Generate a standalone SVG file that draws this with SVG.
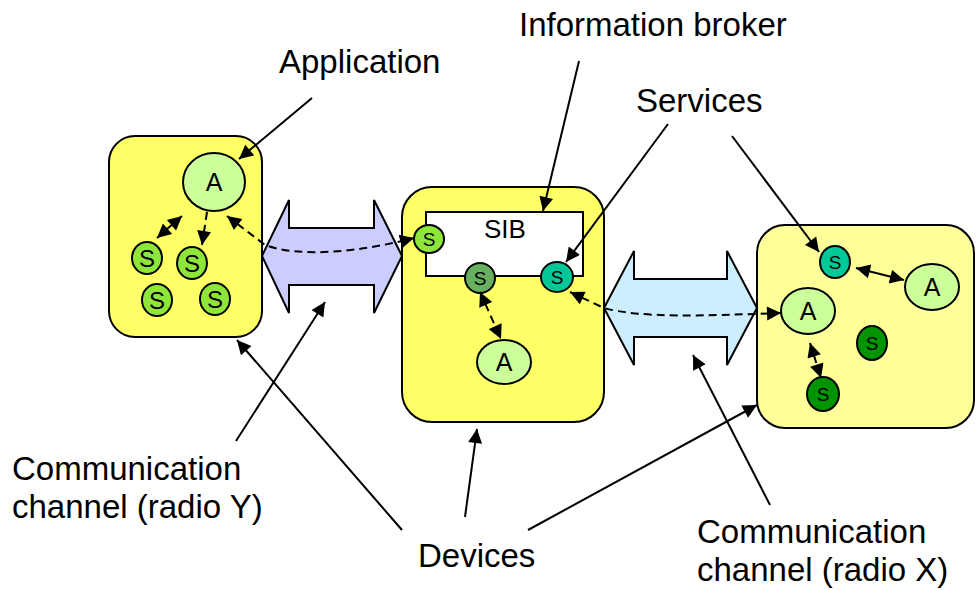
<svg xmlns="http://www.w3.org/2000/svg" width="976" height="590" viewBox="0 0 976 590">
  <style>
    .dev { stroke: #000; stroke-width: 2; }
    .node { stroke: #000; stroke-width: 2; }
    .chan { stroke: #000; stroke-width: 2; stroke-linejoin: miter; }
    .lbl { font-family: "Liberation Sans", Arial, sans-serif; font-size: 33px; fill: #000; }
    .nt { font-family: "Liberation Sans", Arial, sans-serif; fill: #000; text-anchor: middle; }
    .lead { fill: none; stroke: #000; stroke-width: 2; }
    .dash { fill: none; stroke: #000; stroke-width: 2; stroke-dasharray: 8 5; }
    .sA { fill: #ccff99; }
    .sL { fill: #8fe63a; }
    .sM { fill: #66b05f; }
    .sT { fill: #00c896; }
    .sD { fill: #009400; }
  </style>
  <defs>
    <marker id="ah" viewBox="0 0 10 10" refX="10" refY="5" markerWidth="16" markerHeight="14" markerUnits="userSpaceOnUse" orient="auto-start-reverse">
      <path d="M0,0 L10,5 L0,10 z" fill="#000"/>
    </marker>
  </defs>

  <!-- communication channels -->
  <g id="channel-y">
    <polygon class="chan" fill="#ccccff" points="262,256 289,200 289,228 374,228 374,200 402,256 374,313 374,285 289,285 289,313"/>
  </g>
  <g id="channel-x">
    <polygon class="chan" fill="#cceeff" points="604,308 634,251 634,279 727,279 727,251 757,308 727,365 727,337 634,337 634,365"/>
  </g>

  <!-- left device -->
  <g id="device-left">
    <rect class="dev" x="109" y="136" width="153" height="201" rx="26" fill="#ffff66"/>
    <g id="left-app">
      <ellipse class="node sA" cx="214" cy="182" rx="31" ry="29"/>
      <text class="nt" x="214" y="191" font-size="25">A</text>
    </g>
    <g id="left-s1">
      <ellipse class="node sL" cx="147" cy="258" rx="15" ry="16"/>
      <text class="nt" x="147" y="267" font-size="24">S</text>
    </g>
    <g id="left-s2">
      <ellipse class="node sL" cx="192" cy="263" rx="15" ry="16"/>
      <text class="nt" x="192" y="272" font-size="24">S</text>
    </g>
    <g id="left-s3">
      <ellipse class="node sL" cx="157" cy="300" rx="15" ry="16"/>
      <text class="nt" x="157" y="309" font-size="24">S</text>
    </g>
    <g id="left-s4">
      <ellipse class="node sL" cx="215" cy="299" rx="15" ry="16"/>
      <text class="nt" x="215" y="308" font-size="24">S</text>
    </g>
  </g>

  <!-- middle device with the SIB -->
  <g id="device-middle">
    <rect class="dev" x="402" y="187" width="202" height="235" rx="30" fill="#ffff66"/>
    <g id="sib">
      <rect class="node" x="426" y="212" width="157" height="64" fill="#fff"/>
      <text class="nt" x="505" y="238" font-size="26">SIB</text>
    </g>
    <g id="sib-s-left">
      <ellipse class="node sL" cx="429" cy="239" rx="15" ry="14"/>
      <text class="nt" x="429" y="246" font-size="19">S</text>
    </g>
    <g id="sib-s-mid">
      <ellipse class="node sM" cx="480" cy="278" rx="15" ry="15"/>
      <text class="nt" x="480" y="285" font-size="19">S</text>
    </g>
    <g id="sib-s-right">
      <ellipse class="node sT" cx="557" cy="277" rx="16" ry="15"/>
      <text class="nt" x="557" y="284" font-size="19">S</text>
    </g>
    <g id="middle-app">
      <ellipse class="node sA" cx="504" cy="362" rx="27" ry="22"/>
      <text class="nt" x="504" y="371" font-size="25">A</text>
    </g>
  </g>

  <!-- right device -->
  <g id="device-right">
    <rect class="dev" x="757" y="225" width="217" height="203" rx="28" fill="#ffff99"/>
    <g id="right-s-teal">
      <ellipse class="node sT" cx="835" cy="262" rx="15" ry="16"/>
      <text class="nt" x="835" y="269" font-size="19">S</text>
    </g>
    <g id="right-app-1">
      <ellipse class="node sA" cx="932" cy="287" rx="27" ry="23"/>
      <text class="nt" x="932" y="296" font-size="25">A</text>
    </g>
    <g id="right-app-2">
      <ellipse class="node sA" cx="808" cy="311" rx="27" ry="23"/>
      <text class="nt" x="808" y="320" font-size="25">A</text>
    </g>
    <g id="right-s-1">
      <ellipse class="node sD" cx="872" cy="343" rx="15" ry="17"/>
      <text class="nt" x="872" y="350" font-size="19">S</text>
    </g>
    <g id="right-s-2">
      <ellipse class="node sD" cx="823" cy="394" rx="16" ry="17"/>
      <text class="nt" x="823" y="401" font-size="19">S</text>
    </g>
  </g>

  <!-- connectors -->
  <g id="connectors">
    <!-- links inside the devices -->
    <line class="dash" x1="182" y1="216" x2="157" y2="238" marker-start="url(#ah)" marker-end="url(#ah)"/>
    <line class="dash" x1="207" y1="212" x2="202" y2="245" marker-end="url(#ah)"/>
    <line class="dash" x1="480" y1="292" x2="501" y2="339" marker-start="url(#ah)" marker-end="url(#ah)"/>
    <line class="lead" x1="856" y1="268" x2="904" y2="280" marker-start="url(#ah)" marker-end="url(#ah)"/>
    <line class="dash" x1="810" y1="343" x2="821" y2="378" marker-start="url(#ah)" marker-end="url(#ah)"/>
    <!-- links across the radio channels -->
    <path class="dash" d="M227,216 L265,245 C300,258 360,252 414,238" marker-start="url(#ah)" marker-end="url(#ah)"/>
    <path class="dash" d="M570,292 L604,308 C640,318 700,316 781,313" marker-start="url(#ah)" marker-end="url(#ah)"/>

    <!-- label leaders -->
    <line class="lead" x1="312" y1="98" x2="239" y2="159" marker-end="url(#ah)"/>
    <line class="lead" x1="579" y1="61" x2="543" y2="211" marker-end="url(#ah)"/>
    <line class="lead" x1="668" y1="124" x2="566" y2="262" marker-end="url(#ah)"/>
    <line class="lead" x1="732" y1="136" x2="819" y2="252" marker-end="url(#ah)"/>
    <line class="lead" x1="236" y1="441" x2="325" y2="302" marker-end="url(#ah)"/>
    <line class="lead" x1="402" y1="530" x2="237" y2="340" marker-end="url(#ah)"/>
    <line class="lead" x1="465" y1="517" x2="477" y2="429" marker-end="url(#ah)"/>
    <line class="lead" x1="528" y1="530" x2="757" y2="405" marker-end="url(#ah)"/>
    <line class="lead" x1="770" y1="505" x2="693" y2="355" marker-end="url(#ah)"/>
  </g>

  <!-- labels -->
  <g id="labels">
    <text class="lbl" x="279" y="73">Application</text>
    <text class="lbl" x="519" y="36">Information broker</text>
    <text class="lbl" x="636" y="112">Services</text>
    <text class="lbl" x="12" y="480">Communication</text>
    <text class="lbl" x="12" y="518">channel (radio Y)</text>
    <text class="lbl" x="418" y="567">Devices</text>
    <text class="lbl" x="697" y="543">Communication</text>
    <text class="lbl" x="697" y="581">channel (radio X)</text>
  </g>
</svg>
